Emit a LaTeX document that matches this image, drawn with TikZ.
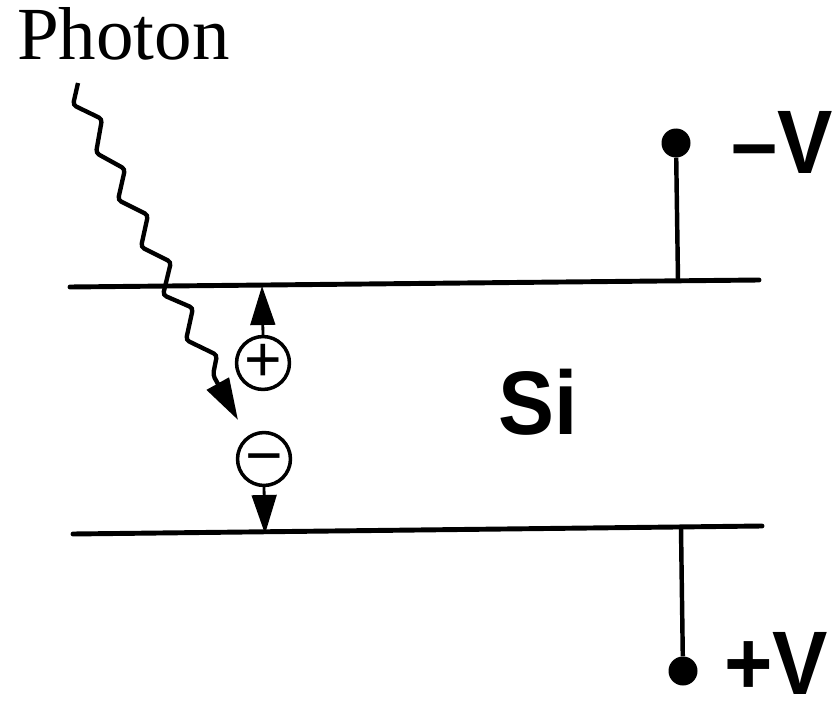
\documentclass[tikz,border=0pt]{standalone}
\usepackage{fontspec}
\setmainfont{Liberation Serif}
\setsansfont{Liberation Sans}
\usetikzlibrary{arrows.meta, positioning, calc}

\begin{document}
\begin{tikzpicture}[x=0.03cm, y=-0.03cm]
    \tikzstyle{plate}=[line width=4.2pt, line cap=round]
    \tikzstyle{stem}=[line width=3.8pt]
    \tikzstyle{terminal}=[circle, fill=black, inner sep=0pt, minimum size=0.87cm]
    \tikzstyle{carrier}=[circle, draw, line width=3pt, inner sep=0pt, minimum size=1.55cm, font=\sffamily\fontsize{55}{60}\selectfont]
    \tikzstyle{drift}=[-{Triangle[length=1.17cm, width=0.74cm]}, line width=2.4pt]
    \tikzstyle{photon}=[line width=3.7pt, rounded corners=3pt, -{Triangle[length=1.25cm, width=0.74cm]}]
    \tikzstyle{volt}=[font=\sffamily\bfseries\fontsize{77}{86}\selectfont, inner sep=0pt, anchor=base west]

    \useasboundingbox (0,0) rectangle (832,702);

    \coordinate (topleft) at (70, 287);
    \coordinate (topright) at (759, 280);
    \coordinate (botleft) at (73, 534);
    \coordinate (botright) at (762, 526);
    \coordinate (topdrop) at (678, 280);
    \coordinate (botdrop) at (681, 528);
    \coordinate (holetip) at (262, 286);
    \coordinate (electip) at (265, 534);
    \coordinate (photonstart) at (78, 83);
    \coordinate (photontip) at (238, 420);

    \node[terminal] (minusdot) at (676, 143) {};
    \node[terminal] (plusdot) at (683, 671) {};
    \node[carrier] (hole) at (263, 363) {+};
    \node[carrier] (elec) at (264, 459) {\vphantom{+}−};

    \node[font=\fontsize{64}{70}\selectfont, inner sep=0pt, anchor=base west] (photonlabel) at (17, 60) {Photon};
    \node[font=\sffamily\bfseries\fontsize{77}{86}\selectfont, inner sep=0pt, anchor=base west, xscale=0.93] (silabel) at (498, 434) {Si};
    \node[volt, xscale=0.92] (minuslabel) at (731, 173) {–V};
    \node[volt, xscale=0.92] (pluslabel) at (724, 694) {+V};

    \draw[plate] (topleft) -- (topright);
    \draw[plate] (botleft) -- (botright);
    \draw[stem] (minusdot) -- (topdrop);
    \draw[stem] (botdrop) -- (plusdot);
    \draw[drift] (hole.north) -- (holetip);
    \draw[drift] (elec.south) -- (electip);
    \draw[photon] (photonstart) -- (73, 105) -- (102, 119) -- (96, 153) -- (125, 169) -- (118, 200) -- (148, 215) -- (141, 247) -- (171, 262) -- (163, 295) -- (193, 308) -- (186, 340) -- (217, 355) -- (213, 375) -- (photontip);
\end{tikzpicture}
\end{document}
